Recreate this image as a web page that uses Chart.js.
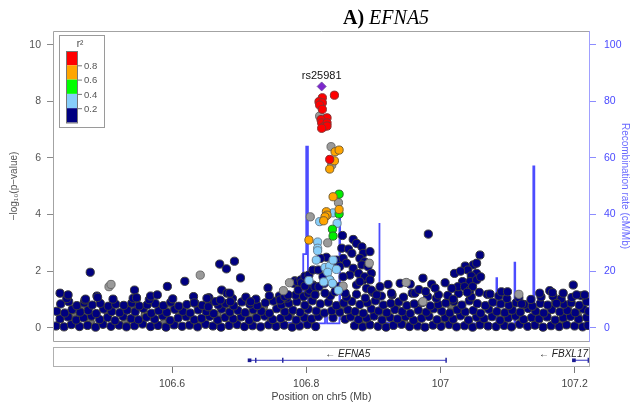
<!DOCTYPE html>
<html>
<head>
<meta charset="utf-8">
<script src="https://cdn.jsdelivr.net/npm/chart.js@4.4.1/dist/chart.umd.min.js"></script>
<style>
body { margin: 0; background: #fff; }
#wrap { position: relative; width: 631px; height: 403px; }
canvas { position: absolute; left: 0; top: 0; }
#title { position: absolute; top: 6px; left: 343px; font-family: "Liberation Serif", "Times New Roman", serif; font-size: 20px; line-height: 23px; white-space: nowrap; }
</style>
</head>
<body>
<div id="wrap">
  <canvas id="assocChart" width="631" height="403"></canvas>
  <canvas id="geneChart" width="631" height="403"></canvas>
  <div id="title"><b>A)</b> <i>EFNA5</i></div>
</div>
<script>
// region shown (Mb on chr5)
const xMin = 106.424, xMax = 107.2215;
const posTicks = [106.6, 106.8, 107.0, 107.2];
const posTickLabels = ['106.6', '106.8', '107', '107.2'];
const pTicks = [0, 2, 4, 6, 8, 10];
const recTicks = [0, 20, 40, 60, 80, 100];

// lead SNP
const leadSnp = 'rs25981';
const leadPoint = [[106.823, 8.53]];

// points by r2 bin: [position Mb, -log10 p]
const redPts = [[106.824,8.13],[106.842,8.22],[106.819,7.99],[106.824,7.95],[106.820,7.87],[106.824,7.72],[106.831,7.42],[106.822,7.36],[106.823,7.24],[106.831,7.24],[106.826,7.10],[106.831,7.13],[106.823,7.05],[106.835,5.95]];
const orangePts = [[106.843,6.22],[106.849,6.28],[106.842,5.90],[106.835,5.61],[106.840,4.63],[106.830,4.10],[106.831,3.98],[106.828,3.92],[106.826,3.78],[106.849,4.18],[106.804,3.10]];
const greenPts = [[106.849,4.72],[106.849,4.02],[106.839,3.48],[106.840,3.24]];
const lblPts = [[106.820,3.75],[106.846,3.69],[106.840,4.06],[106.817,3.03],[106.817,2.81],[106.817,2.72],[106.815,2.39],[106.828,2.13],[106.835,2.18],[106.840,2.39],[106.845,2.06],[106.832,1.96],[106.835,1.69],[106.839,1.57],[106.804,1.67],[106.848,1.32],[106.826,1.62]];
const grayPts = [[106.820,7.48],[106.837,6.40],[106.838,5.75],[106.848,4.42],[106.806,3.92],[106.832,3.00],[106.766,1.31],[106.775,1.59],[106.855,1.47],[106.506,1.45],[106.509,1.53],[106.642,1.86],[107.117,1.18],[106.949,1.60],[106.974,0.92],[106.894,2.28]];
const grayBand = [[106.452,0.45],[106.478,0.20],[106.505,0.50],[106.531,0.18],[106.560,0.46],[106.588,0.15],[106.612,0.48],[106.640,0.20],[106.667,0.44],[106.694,0.17],[106.719,0.47],[106.748,0.21],[106.776,0.49],[106.805,0.19],[106.890,0.20],[106.917,0.46],[106.946,0.16],[106.975,0.45],[107.004,0.20],[107.031,0.48],[107.063,0.17],[107.091,0.45],[107.122,0.20],[107.149,0.47],[107.176,0.18],[107.204,0.44],
  [106.466,0.72],[106.538,0.70],[106.597,0.74],[106.683,0.71],[106.736,0.73],[106.852,0.72],[106.934,0.70],[107.017,0.74],[107.105,0.71],[107.190,0.73]];

// r2 < 0.2, scattered above the dense band
const navyUpper = [
  [106.433,1.22],[106.445,1.16],[106.471,1.01],[106.478,1.96],[106.488,1.12],[106.489,1.07],[106.542,1.04],[106.544,1.33],[106.547,1.06],[106.568,1.12],[106.578,1.16],[106.593,1.46],[106.619,1.64],[106.632,1.10],[106.633,0.88],[106.652,1.04],[106.654,0.74],[106.665,0.92],[106.671,2.25],[106.672,0.98],[106.674,1.33],[106.681,2.08],[106.682,1.22],[106.686,1.22],[106.687,0.92],[106.693,2.35],[106.702,1.76],[106.717,0.92],[106.743,1.41],[106.745,1.13],[106.761,0.98],[106.768,1.10],
  [106.781,1.57],[106.783,1.66],[106.787,1.63],[106.792,1.69],[106.793,1.59],[106.798,1.82],[106.804,1.86],[106.803,1.22],[106.810,1.51],[106.810,2.04],[106.818,2.04],[106.805,1.33],[106.813,1.45],[106.825,1.80],[106.827,1.57],[106.819,1.45],[106.835,1.69],[106.840,1.54],[106.850,1.45],[106.830,2.49],[106.840,2.33],[106.845,2.39],[106.821,2.45],
  [106.788,1.33],[106.798,1.47],[106.773,1.16],[106.813,1.16],[106.828,1.22],[106.843,1.27],[106.858,1.22],[106.875,1.51],[106.885,1.69],[106.890,1.39],[106.897,1.33],[106.905,1.16],
  [106.854,3.26],[106.870,3.12],[106.875,2.98],[106.853,2.81],[106.863,2.78],[106.868,2.63],[106.883,2.86],[106.885,2.63],[106.895,2.69],[106.880,2.45],[106.887,2.33],[106.855,2.45],[106.860,2.28],[106.850,2.16],[106.870,2.10],[106.883,2.22],[106.892,2.16],[106.897,1.92],[106.878,1.92],[106.865,1.86],[106.855,1.80],[106.887,1.80],[106.895,1.69],[106.880,1.63],
  [106.982,3.31],[107.059,2.57],[107.049,2.22],[107.037,2.18],[107.041,2.04],[107.054,1.92],[107.021,1.92],[107.046,1.83],[107.033,1.63],[107.044,1.63],[107.054,1.69],[107.026,1.45],[107.036,1.45],[107.017,1.39],[107.044,1.33],[107.007,1.59],[106.987,1.54],[106.974,1.75],[106.955,1.54],[106.940,1.57],[106.922,1.53],[106.910,1.45],[106.962,1.22],[107.019,1.01],[106.997,1.16],[106.927,1.22],
  [107.054,2.28],[107.030,2.00],[107.048,1.45],[107.060,1.80],[107.040,1.25],[106.968,1.35],[106.978,1.28],[106.992,1.40],
  [107.091,1.27],[107.100,1.27],[107.074,1.19],[107.198,1.51],[107.163,1.31],[107.148,1.22],[107.183,1.22],[107.203,1.16],[107.215,1.16],[107.121,0.84],[107.173,0.86],[107.167,1.24]
];

// r2 < 0.2, dense band near zero
const navyBand = [
  [106.427,.06],[106.439,.03],[106.450,.11],[106.462,.04],[106.474,.08],[106.486,.02],[106.497,.12],[106.509,.05],[106.521,.09],[106.532,.03],[106.544,.07],[106.556,.13],[106.568,.04],[106.579,.08],[106.591,.02],[106.603,.10],[106.615,.05],[106.626,.09],[106.638,.03],[106.650,.12],[106.661,.06],[106.673,.02],[106.685,.08],[106.697,.11],[106.708,.04],[106.720,.07],[106.732,.03],[106.744,.10],[106.755,.05],[106.767,.09],[106.779,.02],[106.790,.06],[106.802,.11],[106.814,.04],[106.872,.07],[106.884,.03],[106.895,.10],[106.907,.05],[106.919,.02],[106.930,.08],[106.942,.12],[106.954,.04],[106.966,.06],[106.977,.02],[106.989,.09],[107.001,.05],[107.013,.11],[107.024,.03],[107.036,.07],[107.048,.02],[107.059,.10],[107.071,.06],[107.083,.04],[107.095,.08],[107.106,.03],[107.118,.12],[107.130,.05],[107.141,.09],[107.153,.02],[107.165,.07],[107.177,.04],[107.188,.10],[107.200,.06],[107.212,.03],[107.220,.08],
  [106.433,.31],[106.445,.38],[106.457,.27],[106.468,.35],[106.480,.41],[106.492,.29],[106.504,.36],[106.515,.25],[106.527,.40],[106.539,.32],[106.550,.28],[106.562,.37],[106.574,.30],[106.586,.42],[106.597,.26],[106.609,.34],[106.621,.39],[106.633,.28],[106.644,.33],[106.656,.40],[106.668,.27],[106.679,.36],[106.691,.31],[106.703,.38],[106.715,.26],[106.726,.35],[106.738,.41],[106.750,.29],[106.762,.33],[106.773,.39],[106.785,.27],[106.797,.36],[106.808,.31],[106.818,.40],[106.840,.35],[106.858,.30],[106.866,.38],[106.878,.29],[106.890,.34],[106.901,.41],[106.913,.27],[106.925,.36],[106.936,.31],[106.948,.39],[106.960,.26],[106.972,.33],[106.983,.40],[106.995,.28],[107.007,.35],[107.019,.30],[107.030,.42],[107.042,.27],[107.054,.37],[107.065,.32],[107.077,.39],[107.089,.26],[107.101,.34],[107.112,.41],[107.124,.29],[107.136,.36],[107.147,.31],[107.159,.38],[107.171,.27],[107.183,.35],[107.194,.40],[107.206,.30],[107.218,.36],
  [106.428,.58],[106.440,.52],[106.451,.64],[106.463,.55],[106.475,.61],[106.487,.50],[106.498,.66],[106.510,.57],[106.522,.53],[106.533,.62],[106.545,.56],[106.557,.68],[106.569,.51],[106.580,.60],[106.592,.54],[106.604,.65],[106.616,.58],[106.627,.52],[106.639,.63],[106.651,.57],[106.662,.50],[106.674,.66],[106.686,.55],[106.698,.61],[106.709,.53],[106.721,.64],[106.733,.58],[106.745,.51],[106.756,.67],[106.768,.56],[106.780,.62],[106.791,.54],[106.803,.65],[106.815,.59],[106.827,.52],[106.838,.60],[106.850,.55],[106.862,.63],[106.873,.57],[106.885,.51],[106.897,.66],[106.908,.59],[106.920,.53],[106.932,.64],[106.943,.57],[106.955,.50],[106.967,.62],[106.979,.55],[106.990,.67],[107.002,.58],[107.014,.52],[107.025,.63],[107.037,.56],[107.049,.61],[107.060,.51],[107.072,.65],[107.084,.57],[107.096,.53],[107.107,.62],[107.119,.55],[107.131,.68],[107.142,.58],[107.154,.52],[107.166,.64],[107.178,.56],[107.189,.61],[107.201,.53],[107.213,.66],[107.221,.58],
  [106.434,.84],[106.446,.92],[106.458,.78],[106.469,.88],[106.481,.80],[106.493,.86],[106.505,.76],[106.516,.83],[106.528,.79],[106.540,.87],[106.551,.77],[106.563,.81],[106.575,.85],[106.587,.78],[106.598,.90],[106.610,.76],[106.622,.82],[106.634,.87],[106.645,.79],[106.657,.93],[106.669,.80],[106.680,.86],[106.692,.77],[106.704,.91],[106.716,.83],[106.727,.78],[106.739,.88],[106.751,.94],[106.763,.81],[106.774,.86],[106.786,.92],[106.798,.79],[106.809,.95],[106.821,.84],[106.833,.90],[106.845,.78],[106.856,.87],[106.868,.93],[106.880,.82],[106.891,.88],[106.903,.95],[106.915,.80],[106.926,.86],[106.938,.91],[106.950,.78],[106.961,.84],[106.973,.89],[106.985,.77],[106.997,.82],[107.008,.87],[107.020,.93],[107.032,.80],[107.043,.95],[107.055,.85],[107.067,.78],[107.078,.90],[107.090,.84],[107.102,.79],[107.113,.88],[107.125,.82],[107.137,.76],[107.149,.86],[107.160,.80],[107.172,.91],[107.184,.83],[107.195,.88],[107.207,.79],[107.218,.92],
  [106.443,1.03],[106.470,0.98],[106.512,1.01],[106.547,1.04],[106.566,0.99],[106.601,1.02],[106.655,1.06],[106.690,1.03],[106.710,1.08],[106.725,1.01],[106.760,1.12],[106.771,1.05],[106.784,1.15],[106.796,1.10],[106.813,1.20],[106.836,1.12],[106.860,1.08],[106.875,1.18],[106.888,1.05],[106.899,1.25],[106.912,1.12],[106.928,1.16],[106.945,1.08],[106.958,1.22],[106.981,1.10],[106.994,1.04],[107.011,1.14],[107.027,1.21],[107.046,1.09],[107.058,1.25],[107.070,1.18],[107.087,1.12],[107.099,1.03],[107.117,1.06],[107.135,1.00],[107.150,1.09],[107.168,1.11],[107.180,1.02],[107.196,1.07],[107.210,1.13]
];

// recombination rate (cM/Mb)
const recomb = [[106.424,0.4],[106.470,0.6],[106.520,0.3],[106.580,0.8],[106.640,0.5],[106.700,0.9],[106.760,1.5],[106.788,2.0],[106.7955,2.0],[106.7955,26],[106.800,26],[106.800,64],[106.8025,64],[106.8025,1.5],[106.828,1.5],[106.828,4],[106.831,4],[106.831,1.5],[106.8495,1.5],[106.8495,39],[106.8505,39],[106.8505,3],[106.870,3],[106.880,1.0],[106.9085,1.0],[106.9085,37],[106.9095,37],[106.9095,2],[106.950,1.2],[107.000,0.8],[107.050,1.5],[107.0835,1.2],[107.0835,17.5],[107.0845,17.5],[107.0845,1.0],[107.1105,1.0],[107.1105,23],[107.1115,23],[107.1115,1.0],[107.1385,1.0],[107.1385,57],[107.1400,57],[107.1400,1.0],[107.180,0.6],[107.2215,0.8]];

// genes
const geneNames = ['EFNA5', 'FBXL17'];
const geneStart = [106.7155, 107.199];
const geneEnd = [107.0085, 107.2215];
const exonBlocks = [106.7155, 107.199];
const exonTicks = [106.7247, 106.765, 107.0085, 107.2205];

// legend
const ldColors = ['#FF0000', '#FFA500', '#00FF00', '#87CEFA', '#000080'];
const ldBreaks = ['0.8', '0.6', '0.4', '0.2'];

Chart.defaults.font.family = '"Liberation Sans", Arial, Helvetica, sans-serif';
Chart.defaults.color = '#555';

const pts = arr => arr.map(([x, y]) => ({ x: x, y: y }));

function dot(label, arr, fill, edge) {
  return {
    type: 'scatter', label: label, data: pts(arr), yAxisID: 'y',
    pointRadius: 4.1, pointBorderWidth: 1,
    pointBackgroundColor: fill, pointBorderColor: edge
  };
}

const assocDecor = {
  id: 'assocDecor',
  beforeDatasetsDraw(chart) {
    const { ctx, chartArea: a } = chart;
    ctx.save();
    ctx.lineWidth = 1;
    ctx.strokeStyle = '#a3a3a3';
    ctx.beginPath();
    ctx.moveTo(a.right, a.top + 0.5);
    ctx.lineTo(a.left - 0.5, a.top + 0.5);
    ctx.lineTo(a.left - 0.5, a.bottom + 0.5);
    ctx.lineTo(a.right, a.bottom + 0.5);
    ctx.stroke();
    ctx.strokeStyle = '#a0a0ff';
    ctx.beginPath();
    ctx.moveTo(a.right + 0.5, a.top);
    ctx.lineTo(a.right + 0.5, a.bottom + 1);
    ctx.stroke();
    ctx.restore();
  },
  afterDatasetsDraw(chart) {
    const { ctx, chartArea: a } = chart;
    ctx.save();
    // lead snp label
    const lead = chart.getDatasetMeta(0).data[0];
    ctx.font = '11px "Liberation Sans", Arial, sans-serif';
    ctx.fillStyle = '#111';
    ctx.textAlign = 'center';
    ctx.textBaseline = 'middle';
    ctx.fillText(leadSnp, lead.x, lead.y - 10);

    // r2 legend
    const lx = a.left + 5, ly = a.top + 4;
    ctx.fillStyle = '#fff';
    ctx.fillRect(lx, ly, 45, 92);
    ctx.strokeStyle = '#9a9a9a';
    ctx.lineWidth = 1;
    ctx.strokeRect(lx + 0.5, ly + 0.5, 45, 92);
    ctx.fillStyle = '#444';
    ctx.font = '10px "Liberation Sans", Arial, sans-serif';
    ctx.fillText('r²', lx + 21, ly + 9);
    const bx = lx + 7, by = ly + 16, bw = 11, bh = 14.3;
    ldColors.forEach((c, i) => {
      ctx.fillStyle = c;
      ctx.fillRect(bx, by + i * bh, bw, bh);
    });
    ctx.strokeStyle = '#777';
    ctx.strokeRect(bx + 0.5, by + 0.5, bw, bh * ldColors.length);
    ctx.font = '9.5px "Liberation Sans", Arial, sans-serif';
    ctx.textAlign = 'left';
    ldBreaks.forEach((t, i) => {
      const yy = by + (i + 1) * bh;
      ctx.strokeStyle = '#777';
      ctx.beginPath();
      ctx.moveTo(bx + bw, yy + 0.5);
      ctx.lineTo(bx + bw + 5, yy + 0.5);
      ctx.stroke();
      ctx.fillStyle = '#555';
      ctx.fillText(t, bx + bw + 7, yy + 1);
    });
    ctx.restore();
  }
};

new Chart(document.getElementById('assocChart'), {
  type: 'scatter',
  data: {
    datasets: [
      { type: 'scatter', label: leadSnp, data: pts(leadPoint), yAxisID: 'y', pointStyle: 'rectRot', pointRadius: 4.5, pointBorderWidth: 0.8, pointBackgroundColor: '#7D26CD', pointBorderColor: '#6a4a9a' },
      dot('r2 0.8-1', redPts, '#FF0000', '#8a3030'),
      dot('r2 0.6-0.8', orangePts, '#FFA500', '#7a6030'),
      dot('r2 0.4-0.6', greenPts, '#00EE00', '#306a30'),
      dot('r2 0.2-0.4', lblPts, '#87CEFA', '#6a8090'),
      dot('no r2', grayPts, '#9a9a9a', '#6a6a6a'),
      dot('r2 0-0.2', navyUpper, '#000080', '#3a3a3a'),
      dot('r2 0-0.2 band', navyBand, '#000080', '#3a3a3a'),
      dot('no r2 band', grayBand, '#6e6e6e', '#3a3a3a'),
      { type: 'line', label: 'recombination', data: pts(recomb), yAxisID: 'y2', borderColor: 'rgba(45,45,255,0.85)', borderWidth: 1.8, pointRadius: 0, tension: 0, fill: false }
    ]
  },
  options: {
    responsive: false,
    animation: false,
    devicePixelRatio: 1,
    events: [],
    layout: { padding: { top: 31, bottom: 62, left: 0, right: 0 } },
    plugins: { legend: { display: false }, tooltip: { enabled: false } },
    scales: {
      x: { type: 'linear', min: xMin, max: xMax, display: false },
      y: {
        position: 'left', min: -0.47, max: 10.49,
        afterBuildTicks: s => { s.ticks = pTicks.map(v => ({ value: v })); },
        afterFit: s => { s.width = 54; },
        grid: { drawOnChartArea: false, tickLength: 7, color: '#8a8a8a' },
        border: { display: false },
        ticks: { color: '#555', padding: 6, font: { size: 10.5 } },
        title: { display: true, text: '−log₁₀(p−value)', color: '#555', font: { size: 10 }, padding: { top: 8, bottom: 0 } }
      },
      y2: {
        position: 'right', min: -4.7, max: 104.9,
        afterBuildTicks: s => { s.ticks = recTicks.map(v => ({ value: v })); },
        afterFit: s => { s.width = 42; },
        grid: { drawOnChartArea: false, tickLength: 7, color: '#8c8cff' },
        border: { display: false },
        ticks: { color: '#4a4aff', padding: 8, font: { size: 10.5 } },
        title: { display: true, text: 'Recombination rate (cM/Mb)', color: '#6a6aff', font: { size: 10 }, padding: { top: 0, bottom: 0 } }
      }
    }
  },
  plugins: [assocDecor]
});

const geneDecor = {
  id: 'geneDecor',
  beforeDatasetsDraw(chart) {
    const { ctx, chartArea: a } = chart;
    ctx.save();
    ctx.strokeStyle = '#b0b0b0';
    ctx.lineWidth = 1;
    ctx.strokeRect(a.left - 0.5, a.top + 0.5, a.width + 1, a.height);
    ctx.restore();
  },
  afterDatasetsDraw(chart) {
    const { ctx, chartArea: a, scales } = chart;
    ctx.save();
    ctx.font = 'italic 10px "Liberation Sans", Arial, sans-serif';
    ctx.fillStyle = '#222';
    ctx.textBaseline = 'middle';
    ctx.textAlign = 'left';
    const yy = scales.y.getPixelForValue(0.62);
    geneNames.forEach((g, i) => {
      const txt = '← ' + g;
      const w = ctx.measureText(txt).width;
      let cx = scales.x.getPixelForValue((geneStart[i] + geneEnd[i]) / 2) - w / 2;
      cx = Math.min(cx, a.right - w - 1);
      ctx.fillText(txt, cx, yy);
    });
    ctx.restore();
  }
};

const geneSets = geneNames.map((g, i) => ({
  type: 'line', label: g,
  data: [{ x: geneStart[i], y: 0.3 }, { x: geneEnd[i], y: 0.3 }],
  borderColor: '#6060d0', borderWidth: 1.3, pointRadius: 0
}));

new Chart(document.getElementById('geneChart'), {
  type: 'scatter',
  data: {
    datasets: [
      { type: 'scatter', label: 'utr', data: exonBlocks.map(v => ({ x: v, y: 0.3 })), pointStyle: 'rect', pointRadius: 2.6, pointBorderWidth: 0, pointBackgroundColor: '#1a1a90' },
      { type: 'scatter', label: 'exons', data: exonTicks.map(v => ({ x: v, y: 0.3 })), pointStyle: 'line', pointRotation: 90, pointRadius: 2.5, pointBorderWidth: 1.5, pointBorderColor: '#2a2aa0' },
      ...geneSets
    ]
  },
  options: {
    responsive: false,
    animation: false,
    devicePixelRatio: 1,
    events: [],
    layout: { padding: { top: 347, bottom: 0, left: 54, right: 42 } },
    plugins: { legend: { display: false }, tooltip: { enabled: false } },
    scales: {
      x: {
        type: 'linear', position: 'bottom', min: xMin, max: xMax,
        afterBuildTicks: s => { s.ticks = posTicks.map(v => ({ value: v })); },
        afterFit: s => { s.height = 37; },
        grid: { drawOnChartArea: false, tickLength: 7, color: '#777' },
        border: { display: false },
        ticks: { color: '#444', padding: 5, maxRotation: 0, autoSkip: false, font: { size: 10.5 }, callback: (v, i) => posTickLabels[i] },
        title: { display: true, text: 'Position on chr5 (Mb)', color: '#444', font: { size: 10.5 }, padding: { top: 0, bottom: 0 } }
      },
      y: { min: 0, max: 1, display: false }
    }
  },
  plugins: [geneDecor]
});
</script>
</body>
</html>
